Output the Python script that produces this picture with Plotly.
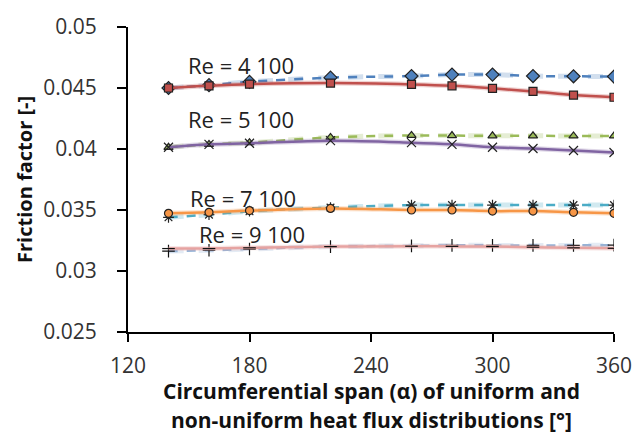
import plotly.graph_objects as go

# Circumferential span (deg)
alpha = [140, 160, 180, 220, 260, 280, 300, 320, 340, 360]

# Re = 4 100
re4100_dash = [0.0450, 0.04523, 0.0455, 0.04585, 0.04598, 0.0461, 0.0461, 0.04598, 0.04596, 0.04594]
re4100_solid = [0.0450, 0.04518, 0.04531, 0.0454, 0.04529, 0.04518, 0.04497, 0.04472, 0.04442, 0.04424]
# Re = 5 100
re5100_dash = [0.04014, 0.04038, 0.04052, 0.04095, 0.04111, 0.04110, 0.04108, 0.04108, 0.04107, 0.04107]
re5100_solid = [0.04014, 0.04038, 0.04047, 0.04068, 0.04052, 0.04038, 0.04014, 0.04004, 0.03988, 0.03971]
# Re = 7 100
re7100_dash = [0.0344, 0.03462, 0.0349, 0.0352, 0.0354, 0.0354, 0.0354, 0.0354, 0.0354, 0.0354]
re7100_solid = [0.03473, 0.03481, 0.03495, 0.03513, 0.0350, 0.0350, 0.03491, 0.03491, 0.03481, 0.03473]
# Re = 9 100
re9100_dash = [0.03163, 0.0317, 0.0318, 0.0320, 0.03206, 0.0321, 0.0321, 0.0321, 0.0321, 0.03212]
re9100_solid = [0.03184, 0.03184, 0.0319, 0.0320, 0.03203, 0.03202, 0.032, 0.03195, 0.0319, 0.03186]

labels = ["Re = 4 100", "Re = 5 100", "Re = 7 100", "Re = 9 100"]
label_x = [176, 176, 177, 181]
label_y = [0.04690, 0.04250, 0.03600, 0.03300]

x_ticks = [120, 180, 240, 300, 360]
y_ticks = [0.025, 0.03, 0.035, 0.04, 0.045, 0.05]
y_ticklabels = ["0.025", "0.03", "0.035", "0.04", "0.045", "0.05"]

series = [
    (re4100_dash, "#4f81bd", "dash", "diamond", "#4f81bd", 10),
    (re4100_solid, "#c0504d", "solid", "square", "#c0504d", 8),
    (re5100_dash, "#9bbb59", "dash", "triangle-up", "#9bbb59", 8),
    (re5100_solid, "#8064a2", "solid", "x-thin-open", "#222222", 9),
    (re7100_dash, "#4bacc6", "dash", "asterisk-open", "#222222", 9),
    (re7100_solid, "#f79646", "solid", "circle", "#f79646", 8),
    (re9100_dash, "#95b3d7", "dash", "cross-thin-open", "#111111", 9),
    (re9100_solid, "#e6a3a1", "solid", "line-ew-open", "#111111", 9),
]

fig = go.Figure()
for ys, col, dash, sym, mcol, msz in series:
    # soft glow under the line
    fig.add_trace(go.Scatter(x=alpha, y=ys, mode="lines", line=dict(color=col, width=5, shape="spline", dash=dash),
                             opacity=0.25, hoverinfo="skip", showlegend=False))
    open_sym = sym.endswith("open")
    fig.add_trace(go.Scatter(
        x=alpha, y=ys, mode="lines+markers",
        line=dict(color=col, width=2.5, dash=dash, shape="spline"),
        marker=dict(symbol=sym, size=msz, color=mcol,
                    line=dict(color="#222222" if not open_sym else mcol, width=1.2)),
        showlegend=False))

for t, xv, yv in zip(labels, label_x, label_y):
    fig.add_annotation(x=xv, y=yv, text=t, showarrow=False, xanchor="center", yanchor="middle",
                       font=dict(family="Open Sans", size=22, color="#222222"))

fig.add_annotation(xref="paper", yref="paper", x=0.5, y=-0.195, text="<b>Circumferential span (α) of uniform and</b>",
                   showarrow=False, xanchor="center", yanchor="middle",
                   font=dict(family="Open Sans", size=21, color="#111111"))
fig.add_annotation(xref="paper", yref="paper", x=0.5, y=-0.29, text="<b>non-uniform heat flux distributions [°]</b>",
                   showarrow=False, xanchor="center", yanchor="middle",
                   font=dict(family="Open Sans", size=21, color="#111111"))
fig.add_annotation(xref="paper", yref="paper", x=-0.213, y=0.5, text="<b>Friction factor [-]</b>",
                   showarrow=False, xanchor="center", yanchor="middle", textangle=-90,
                   font=dict(family="Open Sans", size=20, color="#111111"))

fig.update_layout(
    width=644, height=437,
    margin=dict(l=128, r=24, t=22, b=105),
    paper_bgcolor="white", plot_bgcolor="white",
    font=dict(family="Open Sans", size=21, color="#333333"),
    xaxis=dict(range=[120, 360], tickvals=x_ticks, ticks="outside", ticklen=8, tickwidth=2,
               showline=True, linecolor="black", linewidth=2, showgrid=False, zeroline=False,
               tickcolor="black", ticklabelstandoff=6),
    yaxis=dict(range=[0.025, 0.05], tickvals=y_ticks, ticktext=y_ticklabels, ticks="outside", ticklen=9,
               tickwidth=2, showline=True, linecolor="black", linewidth=2, showgrid=False, zeroline=False,
               tickcolor="black", ticklabelstandoff=16),
)

fig.write_html("out.html")
